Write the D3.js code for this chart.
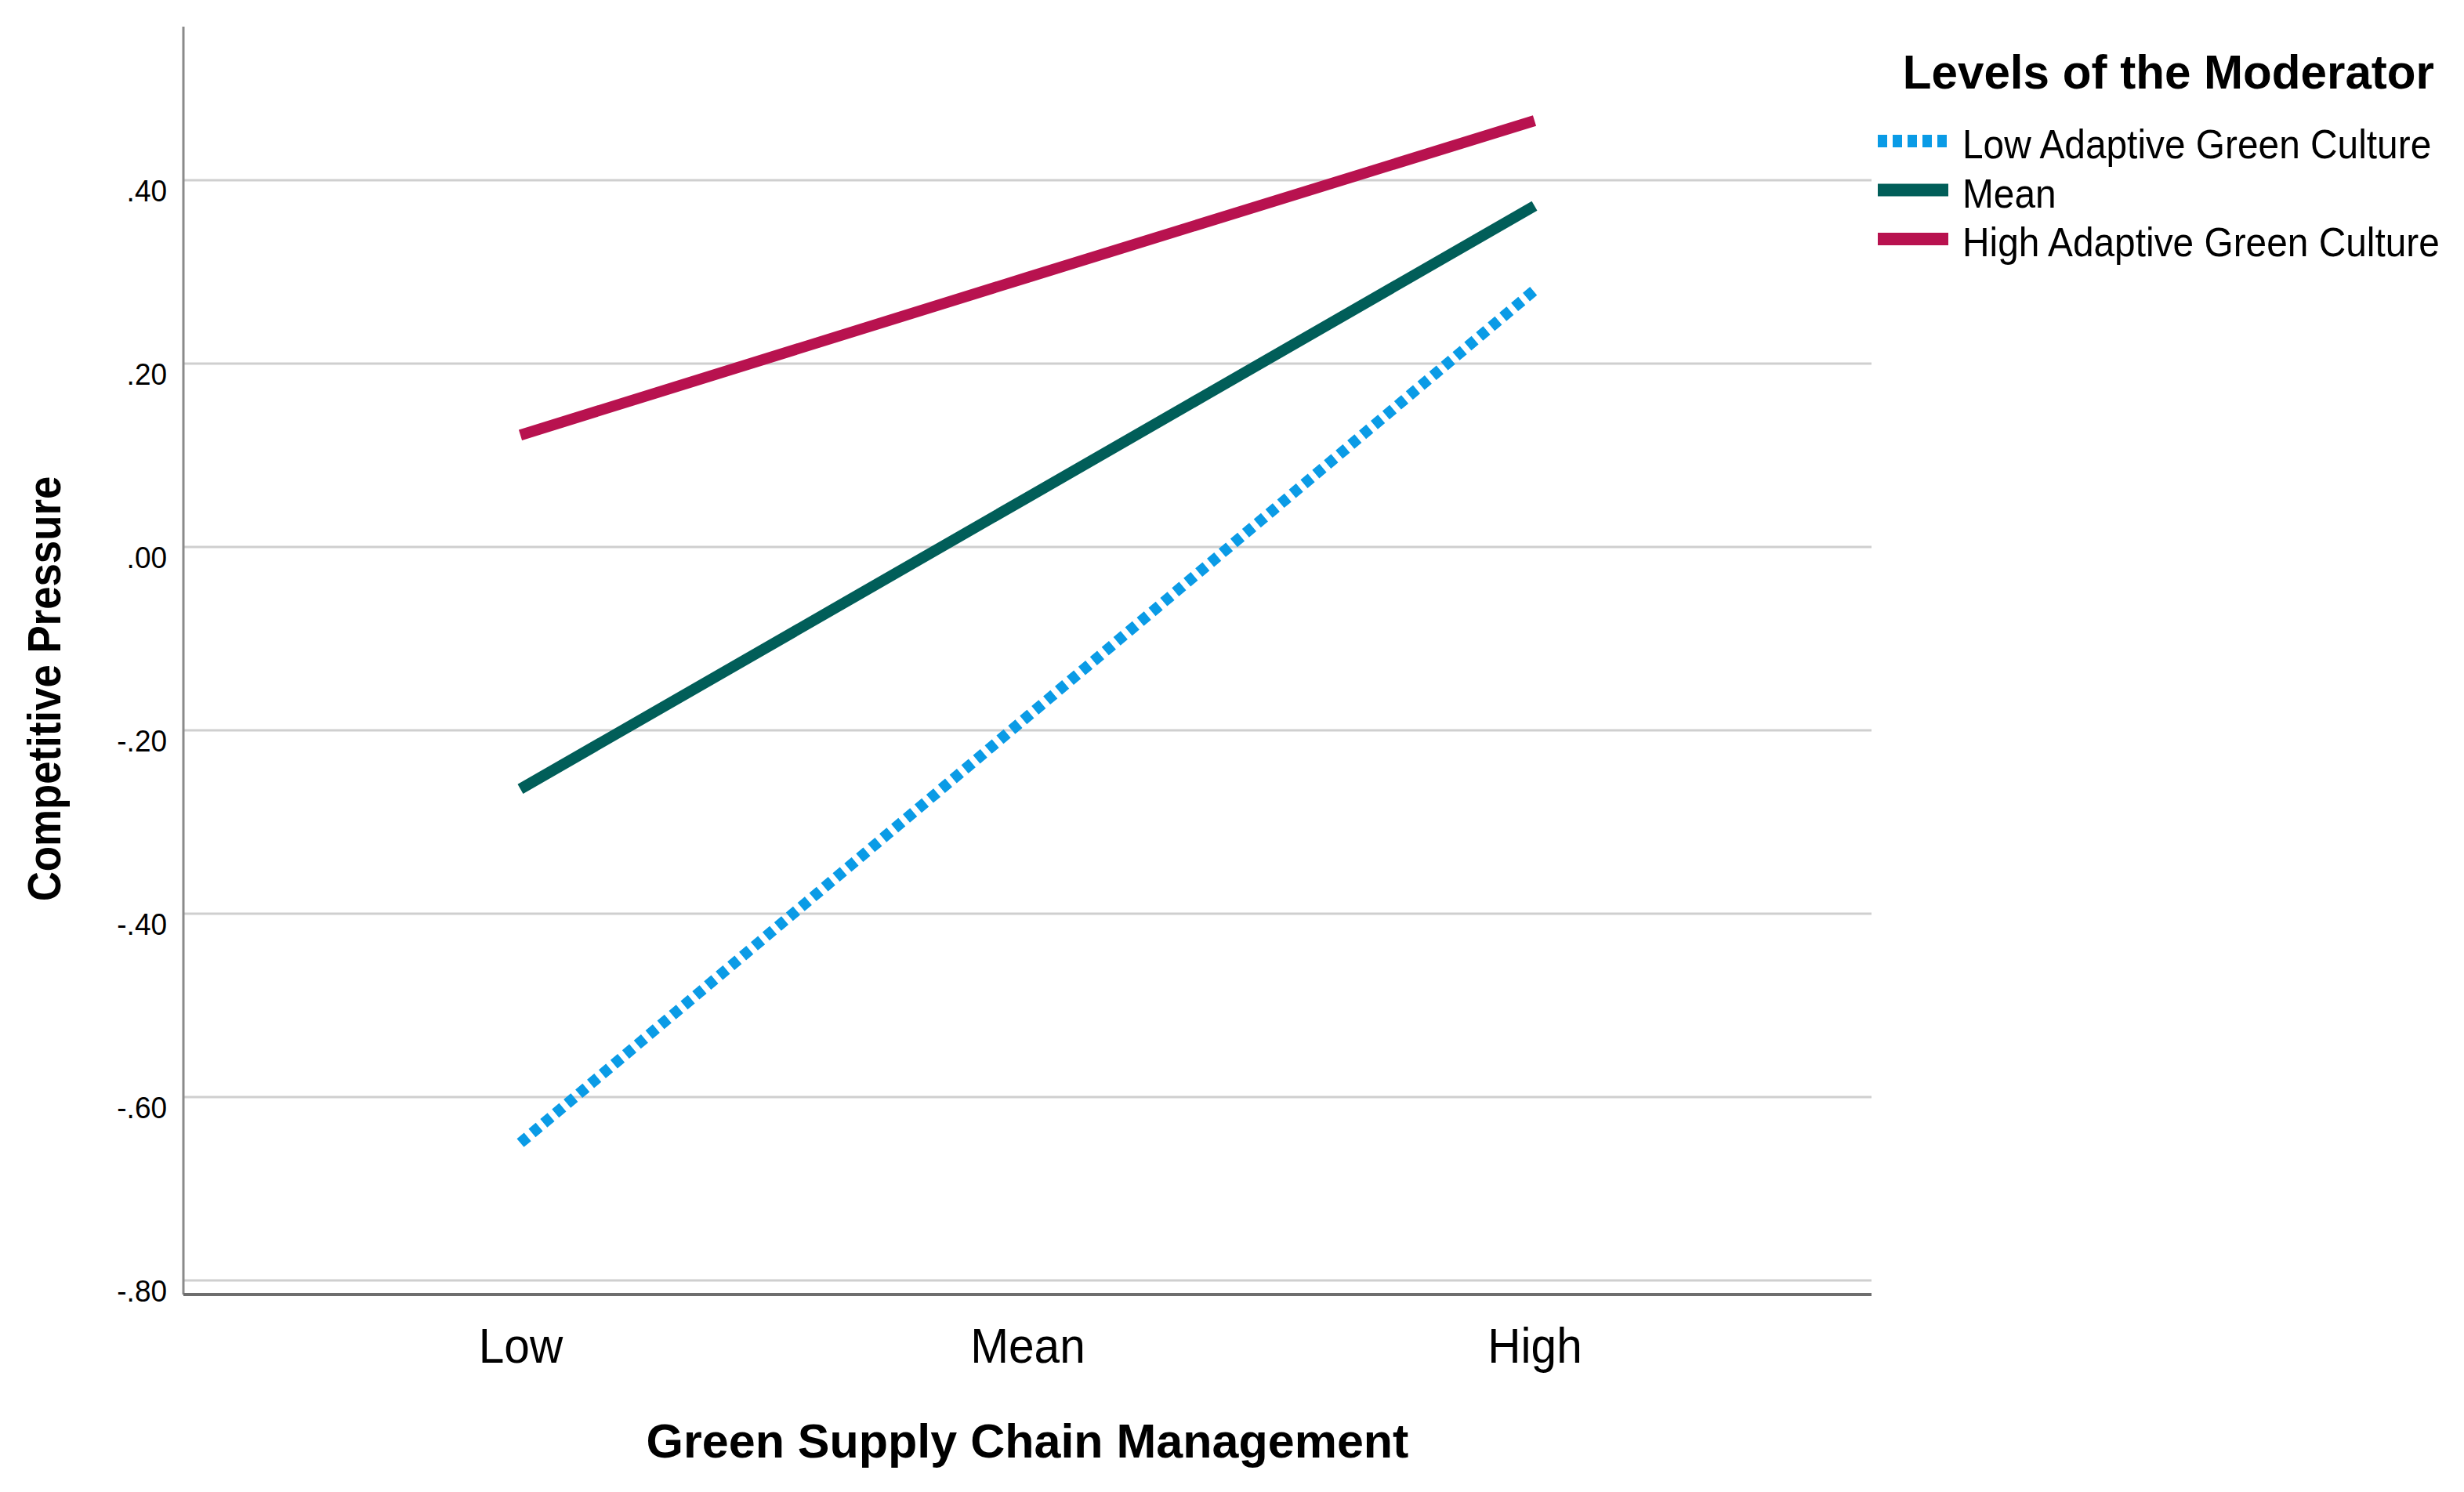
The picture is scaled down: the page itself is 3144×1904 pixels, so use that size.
<!DOCTYPE html>
<html>
<head>
<meta charset="utf-8">
<script src="https://cdn.jsdelivr.net/npm/d3@7"></script>
<style>
  html, body { margin: 0; padding: 0; background: #fff; }
  svg text { font-family: 'Liberation Sans', Arial, sans-serif; fill: #000; }
</style>
</head>
<body>
<svg id="chart"></svg>
<script>
  'use strict';

  /* Data */
  var categories = ['Low', 'Mean', 'High'];
  var seriesNames = ['Low Adaptive Green Culture', 'Mean', 'High Adaptive Green Culture'];
  var lowValues = [-0.650, -0.185, 0.280];
  var meanValues = [-0.264, 0.054, 0.372];
  var highValues = [0.122, 0.294, 0.465];
  var yTicks = [-0.8, -0.6, -0.4, -0.2, 0, 0.2, 0.4];

  var colors = ['#0a9be6', '#015e59', '#b8124f'];
  var dashes = ['12,7.5', null, null];

  var width = 3144;
  var height = 1904;

  var plot = { left: 234, right: 2388, top: 34, bottom: 1652 };

  var svg = d3.select('#chart')
    .attr('width', width)
    .attr('height', height);

  var x = d3.scalePoint()
    .domain(categories)
    .range([664, 1958]);

  var y = d3.scaleLinear()
    .domain([-0.8, 0.4])
    .range([1634, 230]);

  /* SPSS style labels: no leading zero, plain hyphen */
  var fmt = function(d) {
    return d3.format('.2f')(d).replace('0.', '.').replace('\u2212', '-');
  };

  /* The reference text is a bit narrower than Arial, squeeze it */
  var squeezed = function(parent, tx, ty, sx) {
    return parent.append('g')
      .attr('transform', 'translate(' + tx + ',' + ty + ') scale(' + sx + ',1)');
  };

  /* Gridlines */
  svg.append('g')
    .attr('class', 'grid')
    .selectAll('line')
    .data(yTicks)
    .enter().append('line')
      .attr('x1', plot.left)
      .attr('x2', plot.right)
      .attr('y1', function(d) { return y(d); })
      .attr('y2', function(d) { return y(d); })
      .attr('stroke', '#cfcfcf')
      .attr('stroke-width', 3);

  /* Y axis */
  var yAxis = d3.axisLeft(y)
    .tickValues(yTicks)
    .tickSize(0)
    .tickPadding(22)
    .tickFormat(fmt);

  var gY = svg.append('g')
    .attr('transform', 'translate(' + plot.left + ',0)')
    .call(yAxis);
  gY.select('.domain').remove();
  gY.selectAll('text')
    .attr('dy', '0.68em')
    .attr('transform', 'scale(0.95,1)')
    .style('font-size', '39px')
    .style('font-family', "'Liberation Sans', Arial, sans-serif");

  svg.append('line')
    .attr('x1', plot.left).attr('x2', plot.left)
    .attr('y1', plot.top).attr('y2', plot.bottom)
    .attr('stroke', '#8a8a8a')
    .attr('stroke-width', 3);

  /* X axis */
  var xAxis = d3.axisBottom(x)
    .tickSize(0)
    .tickPadding(42);

  var gX = svg.append('g')
    .attr('transform', 'translate(0,' + plot.bottom + ')')
    .call(xAxis);
  gX.select('.domain').remove();
  gX.selectAll('text')
    .attr('transform', 'scale(0.93,1)')
    .style('font-size', '63px')
    .style('font-family', "'Liberation Sans', Arial, sans-serif");

  svg.append('line')
    .attr('x1', plot.left).attr('x2', plot.right)
    .attr('y1', plot.bottom).attr('y2', plot.bottom)
    .attr('stroke', '#6e6e6e')
    .attr('stroke-width', 4);

  /* Axis titles */
  squeezed(svg, (664 + 1958) / 2, 1860, 1)
    .append('text')
    .attr('text-anchor', 'middle')
    .style('font-size', '61px')
    .style('font-weight', 'bold')
    .text('Green Supply Chain Management');

  svg.append('g')
    .attr('transform', 'translate(77,879) rotate(-90) scale(0.88,1)')
    .append('text')
    .attr('text-anchor', 'middle')
    .style('font-size', '60px')
    .style('font-weight', 'bold')
    .text('Competitive Pressure');

  /* Lines */
  var allSeries = [lowValues, meanValues, highValues];
  var line = d3.line()
    .x(function(d, i) { return x(categories[i]); })
    .y(function(d) { return y(d); });

  svg.append('g')
    .selectAll('path')
    .data(allSeries)
    .enter().append('path')
      .attr('d', line)
      .attr('fill', 'none')
      .attr('stroke', function(d, i) { return colors[i]; })
      .attr('stroke-width', 14)
      .attr('stroke-dasharray', function(d, i) { return dashes[i]; });

  /* Legend */
  squeezed(svg, 3106, 113, 0.97)
    .append('text')
    .attr('text-anchor', 'end')
    .style('font-size', '62px')
    .style('font-weight', 'bold')
    .text('Levels of the Moderator');

  var items = svg.append('g')
    .attr('transform', 'translate(2396,0)')
    .selectAll('.item')
    .data(seriesNames)
    .enter().append('g')
      .attr('class', 'item')
      .attr('transform', function(d, i) {
        return 'translate(0,' + (180 + i * 62.5) + ')';
      });

  items.append('line')
    .attr('x1', 0)
    .attr('x2', 90)
    .attr('y1', 0)
    .attr('y2', 0)
    .attr('stroke', function(d, i) { return colors[i]; })
    .attr('stroke-width', 16)
    .attr('stroke-dasharray', function(d, i) { return dashes[i] ? '12,7' : null; });

  items.append('g')
    .attr('transform', 'translate(108,22) scale(0.92,1)')
    .append('text')
    .style('font-size', '52px')
    .text(function(d) { return d; });
</script>
</body>
</html>
